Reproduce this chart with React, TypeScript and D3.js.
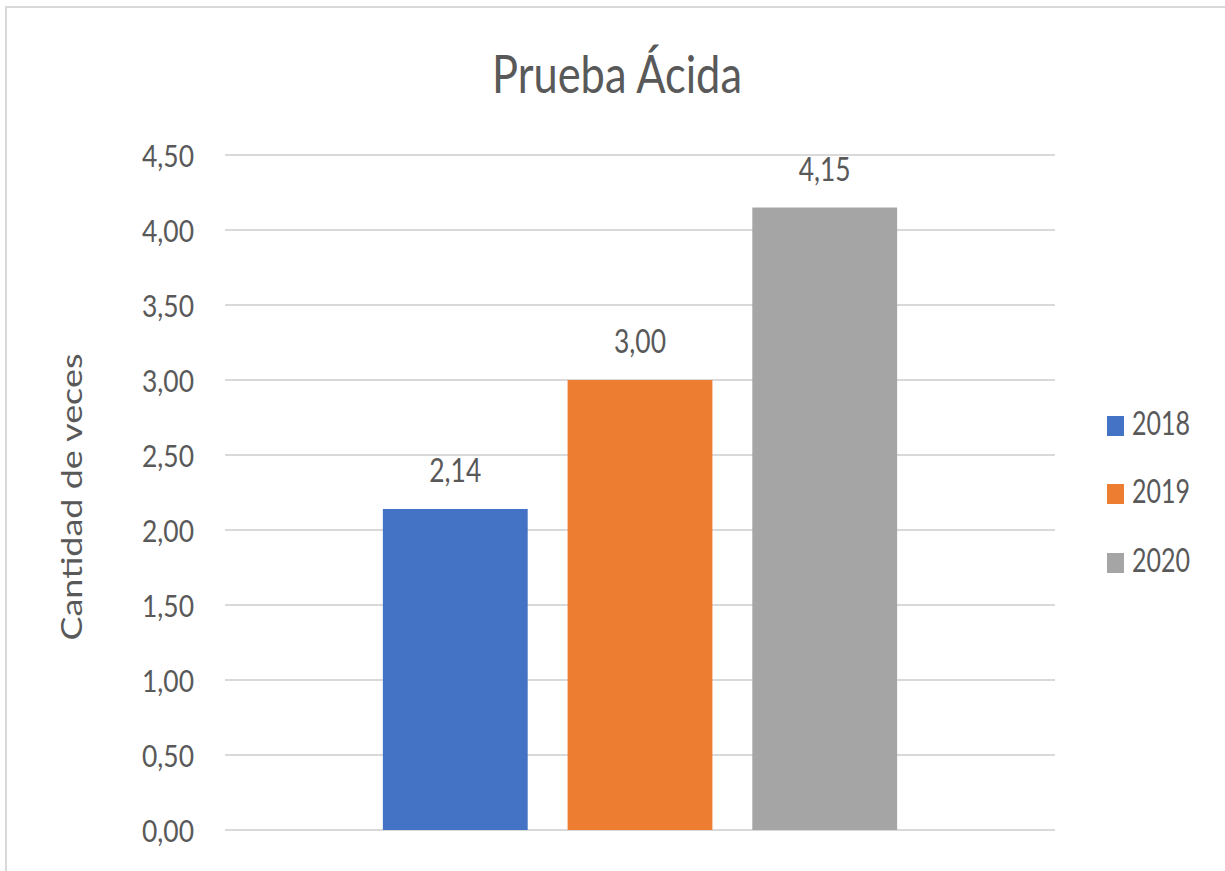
import React from "react";
import * as d3 from "d3";

// Acid-test ratio per year
const years = ["2018", "2019", "2020"];
const values = [2.14, 3.0, 4.15];
const colors = ["#4472C4", "#ED7D31", "#A5A5A5"];
const yTicks = [0, 0.5, 1, 1.5, 2, 2.5, 3, 3.5, 4, 4.5];
const categories = ["Prueba Ácida"];

const W = 1225;
const H = 871;
const plotLeft = 225;
const plotRight = 1055;
const plotTop = 155;
const plotBottom = 830;
const FONT = "Lato, 'Open Sans', sans-serif";
const TEXT = "#595959";

const fmt = (v: number) => d3.format(".2f")(v).replace(".", ",");

export default function App() {
  const y = d3.scaleLinear().domain([0, 4.5]).range([plotBottom, plotTop]);
  const x0 = d3
    .scaleBand<string>()
    .domain(categories)
    .range([plotLeft, plotRight])
    .paddingOuter(0.307);
  const x1 = d3
    .scaleBand<string>()
    .domain(years)
    .range([0, x0.bandwidth()])
    .paddingInner(0.216)
    .paddingOuter(0);
  const gx = x0(categories[0]) as number;

  return (
    <svg
      width={W}
      height={H}
      style={{ position: "absolute", left: 0, top: 0, background: "#fff" }}
    >
      <rect x={0} y={0} width={W} height={H} fill="#fff" />
      {/* chart frame */}
      <rect
        x={6}
        y={7}
        width={W + 20}
        height={H + 20}
        fill="none"
        stroke="#d9d9d9"
        strokeWidth={2}
      />
      <text
        x={617}
        y={93}
        textAnchor="middle"
        fontFamily={FONT}
        fontSize={52}
        fill={TEXT}
        textLength={250}
        lengthAdjust="spacingAndGlyphs"
      >
        Prueba Ácida
      </text>

      {/* gridlines and y ticks */}
      {yTicks.map((t) => (
        <g key={t}>
          <line
            x1={plotLeft}
            x2={plotRight}
            y1={y(t)}
            y2={y(t)}
            stroke="#d9d9d9"
            strokeWidth={2}
          />
          <text
            x={194}
            y={y(t) + 12}
            textAnchor="end"
            fontFamily={FONT}
            fontSize={31}
            fill={TEXT}
            textLength={52}
            lengthAdjust="spacingAndGlyphs"
          >
            {fmt(t)}
          </text>
        </g>
      ))}

      <text
        transform={`translate(82,497) rotate(-90)`}
        textAnchor="middle"
        fontFamily={FONT}
        fontSize={28}
        fill={TEXT}
        textLength={287}
        lengthAdjust="spacingAndGlyphs"
      >
        Cantidad de veces
      </text>

      {/* bars */}
      {years.map((yr, i) => {
        const bx = gx + (x1(yr) as number);
        const bw = x1.bandwidth();
        return (
          <g key={yr}>
            <rect
              x={bx}
              y={y(values[i])}
              width={bw}
              height={y(0) - y(values[i])}
              fill={colors[i]}
            />
            <text
              x={bx + bw / 2}
              y={y(values[i]) - 27}
              textAnchor="middle"
              fontFamily={FONT}
              fontSize={32}
              fill={TEXT}
              textLength={52}
              lengthAdjust="spacingAndGlyphs"
            >
              {fmt(values[i])}
            </text>
          </g>
        );
      })}

      {/* legend */}
      {years.map((yr, i) => {
        const baseY = [435, 503, 572][i];
        return (
          <g key={yr}>
            <rect x={1107} y={baseY - 19} width={17} height={20} fill={colors[i]} />
            <text
              x={1132}
              y={baseY}
              fontFamily={FONT}
              fontSize={32}
              fill={TEXT}
              textLength={58}
              lengthAdjust="spacingAndGlyphs"
            >
              {yr}
            </text>
          </g>
        );
      })}
    </svg>
  );
}
